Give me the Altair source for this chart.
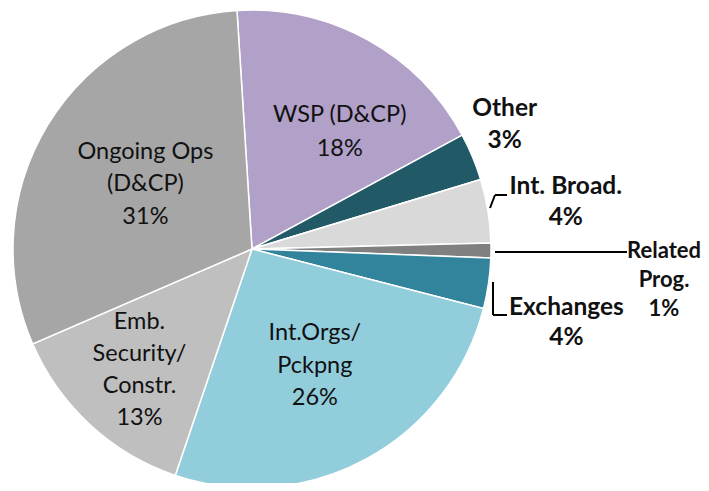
import math
import altair as alt
import pandas as pd

# ---- data ----
categories = ["WSP (D&CP)", "Other", "Int. Broad.", "Related Prog.", "Exchanges",
              "Int.Orgs/Pckpng", "Emb. Security/Constr.", "Ongoing Ops (D&CP)"]
shares = [18.1, 3.2, 4.3, 1.0, 3.4, 26.2, 13.3, 30.5]
labels = ["WSP (D&CP)\n18%", "Other\n3%", "Int. Broad.\n4%", "Related\nProg.\n1%",
          "Exchanges\n4%", "Int.Orgs/\nPckpng\n26%", "Emb.\nSecurity/\nConstr.\n13%",
          "Ongoing Ops\n(D&CP)\n31%"]
colors = ["#B1A0C7", "#215967", "#D9D9D9", "#808080", "#31849B",
          "#92CDDC", "#BFBFBF", "#A6A6A6"]

df = pd.DataFrame({"category": categories, "share": shares, "label": labels,
                   "idx": list(range(len(categories)))})
total = sum(shares)
a0 = -3.6 * math.pi / 180
th_scale = alt.Scale(domain=[0, total], range=[a0, a0 + 2 * math.pi])

O = 8                 # page margin -> plot origin (padding 0)
W, H = 693, 475
CX, CY = 252 - O, 249 - O
R = 239

base = (alt.Chart(df)
        .transform_window(cum="sum(share)", sort=[alt.SortField("idx")])
        .transform_calculate(start="datum.cum - datum.share",
                             mid="datum.cum - datum.share / 2"))

arcs = base.mark_arc(radius=R, stroke="white", strokeWidth=1.5).encode(
    theta=alt.Theta("start:Q", scale=th_scale),
    theta2="cum:Q",
    x=alt.value(CX), y=alt.value(CY),
    color=alt.Color("category:N", scale=alt.Scale(domain=categories, range=colors), legend=None),
)

def label(cat, radius, dx=0, dy=0, bold=False, size=23.5, lh=33):
    return base.transform_filter(alt.datum.category == cat).mark_text(
        radius=radius, dx=dx, dy=dy, lineBreak="\n", lineHeight=lh,
        font="Lato", fontSize=size, fontWeight="bold" if bold else "normal",
        color="#111111", align="center", baseline="middle",
    ).encode(theta=alt.Theta("mid:Q", scale=th_scale), text="label:N",
             x=alt.value(CX), y=alt.value(CY))

texts = [
    label("Ongoing Ops (D&CP)", 125, dy=-32, lh=32.5),
    label("WSP (D&CP)", 146, dx=17, dy=-6, lh=34),
    label("Emb. Security/Constr.", 166, dy=-49, lh=32),
    label("Int.Orgs/Pckpng", 132, dy=-32, lh=32.5),
    label("Other", 250, dx=22, dy=-44, bold=True, size=24.5, lh=32),
    label("Int. Broad.", 250, dx=67, dy=-22, bold=True, size=24.5, lh=31),
    label("Related Prog.", 250, dx=162, dy=0, bold=True, size=22, lh=29),
    label("Exchanges", 250, dx=67, dy=23, bold=True, size=24.5, lh=30),
]

one = alt.Chart(pd.DataFrame({"k": [0]}))
def seg(x1, y1, x2, y2):
    return one.mark_rule(color="black", strokeWidth=2).encode(
        x=alt.value(x1 - O), y=alt.value(y1 - O), x2=alt.value(x2 - O), y2=alt.value(y2 - O))

leaders = [
    seg(490, 208, 495, 195), seg(495, 195, 507, 195),
    seg(495, 252, 627, 252),
    seg(493, 282, 493, 315), seg(493, 315, 507, 315),
]

chart = (alt.layer(arcs, *texts, *leaders)
         .properties(width=W, height=H, padding=0,
                     autosize=alt.AutoSizeParams(type="none"))
         .configure_view(stroke=None))
chart.save("out.html", embed_options={"renderer": "svg", "actions": False})
